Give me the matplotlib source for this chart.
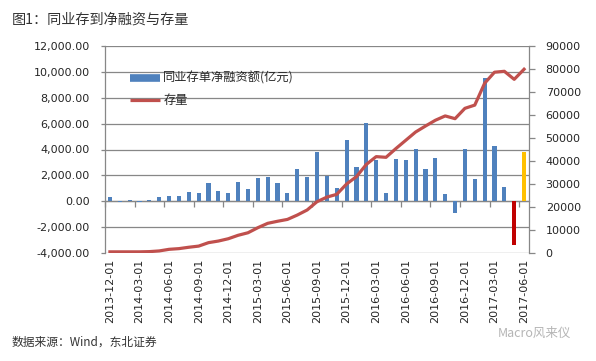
import pandas as pd
import matplotlib.pyplot as plt
import numpy as np
from matplotlib.lines import Line2D

CJK = ['Noto Sans CJK SC', 'DejaVu Sans']

months = pd.date_range('2013-12-01', '2017-06-01', freq='MS').strftime('%Y-%m-%d').tolist()

# 同业存单净融资额 (亿元), left axis
net_financing = [300, -80, 80, -60, 80, 340, 420, 420, 730, 620,
                 1430, 800, 620, 1480, 960, 1820, 1900, 1430, 620, 2490,
                 1870, 3820, 1970, 1010, 4750, 2650, 6050, 3190, 620, 3270,
                 3190, 4050, 2520, 3350, 570, -880, 4050, 1710, 9550, 4280,
                 1120, -3350, 3800]

# 存量 (亿元), right axis
stock = [500, 500, 500, 500, 600, 900, 1600, 1900, 2500, 3000,
         4500, 5200, 6200, 7700, 8800, 11000, 12900, 13800, 14600, 16500,
         18700, 22300, 24300, 25500, 30000, 33200, 38500, 41900, 41600, 45400,
         49000, 52600, 55200, 57700, 59600, 58400, 62900, 64300, 73800, 78600,
         79000, 75500, 79900]

BLUE = '#4F81BD'
RED_LINE = '#C0504D'
GRID = '#878787'
TXT = '#262626'

bar_colors = [BLUE] * (len(months) - 2) + ['#C00000', '#FFC000']
x = np.arange(len(months))

fig = plt.figure(figsize=(5.96, 3.61), dpi=100)
ax = fig.add_axes([105 / 596, 1 - 253 / 361, 424 / 596, 207 / 361])
ax2 = ax.twinx()

ax.bar(x, net_financing, width=0.42, color=bar_colors, zorder=3)
ax.set_xlim(-0.5, len(months) - 0.5)
ax.set_ylim(-4000, 12000)
ax.set_yticks(np.arange(-4000, 12001, 2000))
ax.set_yticklabels([f'{v:,.2f}' for v in np.arange(-4000, 12001, 2000)])
ax.yaxis.grid(True, color=GRID, linewidth=0.9)
ax.set_axisbelow(True)

ax.set_xticks(x[::3])
ax.set_xticklabels(months[::3], rotation=90, fontsize=8, color=TXT)
ax.tick_params(axis='x', length=0, pad=4)
ax.tick_params(axis='y', length=3, width=0.9, color=GRID, labelsize=8, labelcolor=TXT, pad=8)

for s in ['top', 'bottom', 'right']:
    ax.spines[s].set_visible(False)
ax.spines['left'].set_color(GRID)
ax.spines['left'].set_linewidth(0.9)

# category axis crossing at 0
zero_axis = ax.secondary_xaxis(0.25)
zero_axis.set_xticks(x[::3] - 0.5)
zero_axis.set_xticklabels([])
zero_axis.tick_params(axis='x', length=4, width=0.9, color=GRID, direction='out')
zero_axis.spines['bottom'].set_color(GRID)
zero_axis.spines['bottom'].set_linewidth(0.9)

ax2.plot(x, stock, color=RED_LINE, linewidth=2.3, zorder=4)
ax2.set_ylim(0, 90000)
ax2.set_yticks(np.arange(0, 90001, 10000))
ax2.tick_params(axis='y', length=4, width=0.9, color=GRID, labelsize=8, labelcolor=TXT, pad=8)
for s in ['top', 'bottom', 'left']:
    ax2.spines[s].set_visible(False)
ax2.spines['right'].set_color(GRID)
ax2.spines['right'].set_linewidth(0.9)

handles = [Line2D([], [], color=BLUE, linewidth=5.5, solid_capstyle='butt'),
           Line2D([], [], color=RED_LINE, linewidth=2.3, solid_capstyle='butt')]
leg = ax.legend(handles, ['同业存单净融资额(亿元)', '存量'], loc='upper left',
                bbox_to_anchor=(0.045, 0.905), frameon=False, borderpad=0,
                handlelength=2.4, handletextpad=0.3, labelspacing=0.75,
                prop={'family': CJK, 'size': 8.8})
for t in leg.get_texts():
    t.set_color(TXT)

fig.text(12 / 596, 1 - 20 / 361, '图1：同业存到净融资与存量', family=CJK,
         fontsize=10.2, color='#333333', va='center')
fig.text(12 / 596, 1 - 342 / 361, '数据来源：Wind，东北证券', family=CJK,
         fontsize=8.5, color='#333333', va='center')
fig.text(498 / 596, 1 - 333 / 361, 'Macro风来仪', family=CJK,
         fontsize=9, color='#b5b5b5', va='center')

fig.savefig('out.png', dpi=100)
